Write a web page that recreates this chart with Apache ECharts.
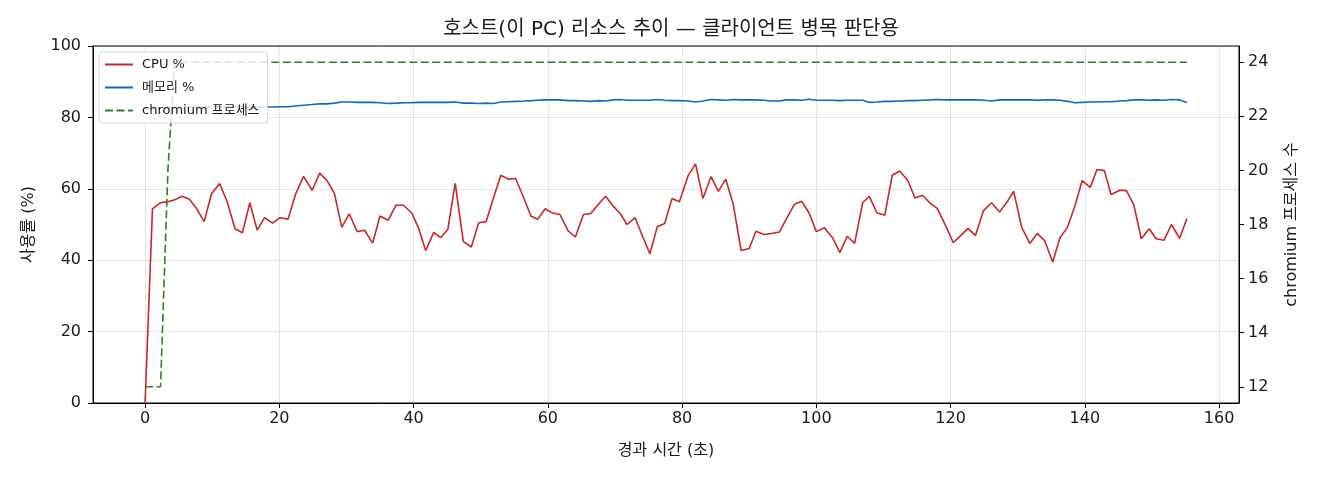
<!DOCTYPE html>
<html>
<head>
<meta charset="utf-8">
<script src="https://cdn.jsdelivr.net/npm/echarts@6/dist/echarts.min.js"></script>
<style>
  html, body { margin: 0; padding: 0; background: #fff; }
  #chart { width: 1320px; height: 480px; }
</style>
</head>
<body>
<div id="chart"></div>
<script>
// elapsed seconds of each sample
var times = [
    0.0, 1.1, 2.3, 3.4, 4.4, 5.5, 6.6, 7.7, 8.8, 9.9,
    11.1, 12.2, 13.4, 14.5, 15.6, 16.7, 17.8, 19.0, 20.1, 21.3,
    22.4, 23.6, 24.9, 26.0, 27.1, 28.2, 29.3, 30.4, 31.6, 32.7,
    33.9, 35.0, 36.2, 37.4, 38.5, 39.7, 40.7, 41.8, 43.0, 44.0,
    45.1, 46.2, 47.4, 48.6, 49.7, 50.8, 51.9, 53.0, 54.1, 55.2,
    56.4, 57.5, 58.5, 59.6, 60.7, 61.8, 63.0, 64.1, 65.3, 66.4,
    67.5, 68.6, 69.8, 70.8, 71.8, 73.0, 74.1, 75.2, 76.3, 77.4,
    78.5, 79.6, 80.9, 82.0, 83.1, 84.3, 85.4, 86.5, 87.6, 88.8,
    90.0, 91.0, 92.2, 93.3, 94.5, 95.6, 96.7, 97.8, 98.9, 100.0,
    101.2, 102.4, 103.5, 104.6, 105.7, 106.9, 107.9, 109.0, 110.2, 111.3,
    112.4, 113.6, 114.7, 115.8, 117.0, 118.0, 119.2, 120.4, 121.5, 122.6,
    123.7, 124.9, 126.1, 127.3, 128.4, 129.4, 130.6, 131.8, 132.9, 134.0,
    135.2, 136.3, 137.4, 138.5, 139.6, 140.8, 141.8, 142.9, 143.9, 145.2,
    146.2, 147.3, 148.4, 149.6, 150.6, 151.8, 152.9, 154.1, 155.2
];

var cpu = [
    0.0, 54.4, 56.1, 56.4, 56.9, 57.9, 57.1, 54.4, 50.8, 58.6,
    61.5, 56.5, 48.8, 47.7, 56.1, 48.4, 51.9, 50.4, 51.9, 51.5,
    58.4, 63.5, 59.6, 64.4, 62.3, 58.7, 49.2, 53.0, 48.0, 48.4,
    44.8, 52.4, 51.2, 55.4, 55.4, 53.3, 49.2, 42.7, 47.8, 46.3,
    48.6, 61.5, 45.3, 43.7, 50.5, 50.8, 57.5, 63.8, 62.7, 62.9,
    57.5, 52.3, 51.5, 54.4, 53.2, 52.8, 48.3, 46.5, 52.8, 53.1,
    55.6, 57.9, 55.0, 53.0, 50.0, 51.9, 46.7, 41.8, 49.4, 50.3,
    57.3, 56.4, 63.7, 67.0, 57.3, 63.4, 59.3, 62.7, 55.8, 42.7,
    43.3, 48.1, 47.2, 47.5, 47.9, 51.8, 55.6, 56.5, 53.3, 48.0,
    49.1, 46.3, 42.1, 46.7, 44.7, 56.1, 57.9, 53.3, 52.6, 63.8,
    65.0, 62.4, 57.4, 58.2, 55.9, 54.5, 49.9, 44.9, 46.9, 48.9,
    46.9, 53.9, 56.1, 53.5, 56.3, 59.3, 49.1, 44.7, 47.5, 45.5,
    39.5, 46.3, 49.2, 55.1, 62.3, 60.4, 65.4, 65.1, 58.4, 59.6,
    59.5, 55.4, 46.0, 48.8, 46.0, 45.6, 50.0, 46.1, 51.7
];

var mem = [
    82.4, 82.6, 82.7, 82.8, 82.8, 82.9, 82.9, 82.9, 82.9, 82.9,
    83.0, 83.0, 83.0, 82.9, 82.9, 82.9, 82.9, 82.9, 83.0, 83.0,
    83.2, 83.4, 83.6, 83.8, 83.8, 84.0, 84.3, 84.3, 84.2, 84.2,
    84.2, 84.1, 83.9, 84.0, 84.1, 84.1, 84.2, 84.2, 84.2, 84.2,
    84.2, 84.3, 84.0, 84.0, 83.9, 84.0, 83.9, 84.3, 84.4, 84.5,
    84.6, 84.7, 84.8, 84.9, 84.9, 84.9, 84.7, 84.7, 84.6, 84.5,
    84.7, 84.6, 84.9, 85.0, 84.8, 84.8, 84.8, 84.8, 85.0, 84.8,
    84.7, 84.7, 84.6, 84.3, 84.6, 85.0, 84.9, 84.8, 85.0, 84.9,
    84.9, 84.9, 84.8, 84.6, 84.6, 84.9, 84.9, 84.8, 85.1, 84.8,
    84.8, 84.8, 84.7, 84.8, 84.8, 84.8, 84.2, 84.3, 84.5, 84.5,
    84.6, 84.7, 84.7, 84.8, 84.9, 85.0, 84.9, 84.9, 84.9, 84.9,
    84.9, 84.8, 84.6, 84.9, 84.9, 84.9, 84.9, 84.9, 84.8, 84.9,
    84.9, 84.8, 84.5, 84.1, 84.2, 84.3, 84.3, 84.4, 84.4, 84.6,
    84.7, 84.9, 84.9, 84.8, 84.9, 84.8, 85.0, 84.9, 84.2
];

var procs = [
    12, 12, 12, 20, 24, 24, 24, 24, 24, 24,
    24, 24, 24, 24, 24, 24, 24, 24, 24, 24,
    24, 24, 24, 24, 24, 24, 24, 24, 24, 24,
    24, 24, 24, 24, 24, 24, 24, 24, 24, 24,
    24, 24, 24, 24, 24, 24, 24, 24, 24, 24,
    24, 24, 24, 24, 24, 24, 24, 24, 24, 24,
    24, 24, 24, 24, 24, 24, 24, 24, 24, 24,
    24, 24, 24, 24, 24, 24, 24, 24, 24, 24,
    24, 24, 24, 24, 24, 24, 24, 24, 24, 24,
    24, 24, 24, 24, 24, 24, 24, 24, 24, 24,
    24, 24, 24, 24, 24, 24, 24, 24, 24, 24,
    24, 24, 24, 24, 24, 24, 24, 24, 24, 24,
    24, 24, 24, 24, 24, 24, 24, 24, 24, 24,
    24, 24, 24, 24, 24, 24, 24, 24, 24
];

var xTicks = [0, 20, 40, 60, 80, 100, 120, 140, 160];
var procTicks = [12, 14, 16, 18, 20, 22, 24];

function pairs(vals) {
    return times.map(function (t, i) { return [t, vals[i]]; });
}

var FONT = '"DejaVu Sans", "Noto Sans CJK KR", sans-serif';
var INK = '#1a1a1a';

var myChart = echarts.init(document.getElementById('chart'));
var option = {
    animation: false,
    backgroundColor: '#fff',
    textStyle: { fontFamily: FONT },
    title: {
        text: '호스트(이 PC) 리소스 추이 — 클라이언트 병목 판단용',
        left: 666,
        top: 15,
        textAlign: 'center',
        textStyle: { fontFamily: FONT, fontSize: 20, fontWeight: 'normal', color: INK }
    },
    grid: {
        left: 93, right: 81, top: 46, bottom: 77,
        show: true, borderColor: '#000', borderWidth: 1
    },
    legend: {
        left: 99, top: 52,
        orient: 'vertical',
        itemWidth: 28, itemHeight: 14, itemGap: 10,
        padding: [6, 8, 6, 5],
        backgroundColor: 'rgba(255,255,255,0.8)',
        borderColor: '#d6d6d6', borderWidth: 1, borderRadius: 3,
        itemStyle: { opacity: 0 },
        textStyle: { fontFamily: FONT, fontSize: 13, color: INK, padding: [0, 0, 0, 4] },
        data: ['CPU %', '메모리 %', 'chromium 프로세스']
    },
    xAxis: {
        type: 'value',
        min: -7.76, max: 162.96,
        name: '경과 시간 (초)',
        nameLocation: 'middle', nameGap: 40,
        nameTextStyle: { fontFamily: FONT, fontSize: 16, color: INK },
        axisLine: { show: true, onZero: false, lineStyle: { color: '#000' } },
        axisTick: { show: true, length: 5, customValues: xTicks, lineStyle: { color: '#000' } },
        axisLabel: { customValues: xTicks, fontSize: 16, color: INK, margin: 8 },
        splitLine: { show: true, lineStyle: { color: 'rgba(0,0,0,0.1)' } }
    },
    yAxis: [{
        type: 'value',
        min: 0, max: 100, interval: 20,
        name: '사용률 (%)',
        nameLocation: 'middle', nameGap: 56, nameRotate: 90,
        nameTextStyle: { fontFamily: FONT, fontSize: 16, color: INK },
        axisLine: { show: true, onZero: false, lineStyle: { color: '#000' } },
        axisTick: { show: true, length: 5, lineStyle: { color: '#000' } },
        axisLabel: { fontSize: 16, color: INK, margin: 12 },
        splitLine: { show: true, lineStyle: { color: 'rgba(0,0,0,0.1)' } }
    }, {
        type: 'value',
        position: 'right',
        min: 11.4, max: 24.6,
        name: 'chromium 프로세스 수',
        nameLocation: 'middle', nameGap: 45, nameRotate: 90,
        nameTextStyle: { fontFamily: FONT, fontSize: 16, color: INK },
        axisLine: { show: true, onZero: false, lineStyle: { color: '#000' } },
        axisTick: { show: true, length: 5, customValues: procTicks, lineStyle: { color: '#000' } },
        axisLabel: { customValues: procTicks, fontSize: 16, color: INK, margin: 9 },
        splitLine: { show: false }
    }],
    series: [{
        name: 'CPU %',
        type: 'line',
        yAxisIndex: 0,
        symbol: 'none',
        lineStyle: { color: '#c62828', width: 1.6 },
        itemStyle: { color: '#c62828' },
        data: pairs(cpu)
    }, {
        name: '메모리 %',
        type: 'line',
        yAxisIndex: 0,
        symbol: 'none',
        lineStyle: { color: '#1565c0', width: 1.6 },
        itemStyle: { color: '#1565c0' },
        data: pairs(mem)
    }, {
        name: 'chromium 프로세스',
        type: 'line',
        yAxisIndex: 1,
        symbol: 'none',
        lineStyle: { color: '#2e7d32', width: 1.6, type: [8, 3.5] },
        itemStyle: { color: '#2e7d32' },
        data: pairs(procs)
    }]
};
myChart.setOption(option);
</script>
</body>
</html>
